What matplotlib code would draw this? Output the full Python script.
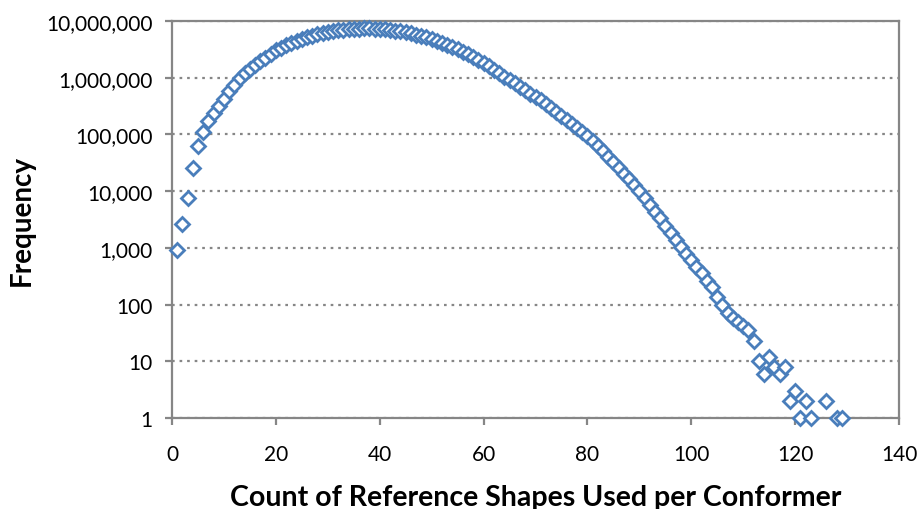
import matplotlib
matplotlib.use('Agg')
import matplotlib.pyplot as plt
from matplotlib.ticker import FuncFormatter, FixedLocator, NullLocator

# count of reference shapes (x) and frequency (y)
counts = list(range(1, 124)) + [126, 128, 129]
frequency = [
    930, 2600, 7600, 26000, 62000, 112000, 174000, 234000, 316000, 427000,
    575000, 759000, 977000, 1200000, 1430000, 1660000, 1950000, 2240000, 2630000, 3020000,
    3310000, 3720000, 4070000, 4470000, 4840000, 5190000, 5500000, 5820000, 6100000, 6310000,
    6610000, 6840000, 7000000, 7160000, 7240000, 7330000, 7380000, 7380000, 7330000, 7240000,
    7110000, 6970000, 6760000, 6530000, 6310000, 6030000, 5750000, 5430000, 5130000, 4790000,
    4470000, 4120000, 3800000, 3470000, 3160000, 2880000, 2600000, 2290000, 2040000, 1820000,
    1580000, 1380000, 1200000, 1050000, 912000, 794000, 692000, 603000, 525000, 457000,
    398000, 347000, 295000, 251000, 214000, 182000, 155000, 132000, 112000, 95500,
    77600, 63100, 51300, 40700, 32400, 25700, 20400, 16200, 12900, 10000,
    7590, 5750, 4370, 3310, 2450, 1820, 1380, 1050, 794, 603,
    457, 355, 263, 200, 138, 98, 71, 58, 49, 42,
    35, 23, 10, 6, 12, 8, 6, 8, 2, 3,
    1, 2, 1, 2, 1, 1,
]
x_ticks = [0, 20, 40, 60, 80, 100, 120, 140]
y_ticks = [1, 10, 100, 1000, 10000, 100000, 1000000, 10000000]

plt.rcParams['font.family'] = ['Lato', 'DejaVu Sans']
grey = '#868686'

fig = plt.figure(figsize=(9.19, 5.10), dpi=100)
ax = fig.add_axes([172 / 919, 1 - 419 / 510, (899 - 172) / 919, (419 - 22) / 510])

ax.plot(counts, frequency, linestyle='none', marker='D', markersize=7.5,
        markerfacecolor='white', markeredgecolor='#4A7EBB', markeredgewidth=2.0,
        clip_on=False, zorder=3)

ax.set_yscale('log')
ax.set_xlim(0, 140)
ax.set_ylim(1, 10000000)
ax.xaxis.set_major_locator(FixedLocator(x_ticks))
ax.yaxis.set_major_locator(FixedLocator(y_ticks))
ax.yaxis.set_minor_locator(NullLocator())
ax.yaxis.set_major_formatter(FuncFormatter(lambda v, p: '{:,.0f}'.format(v)))

ax.grid(axis='y', color=grey, linestyle=(0, (1.2, 2.2)), linewidth=1.6)
ax.set_axisbelow(True)
for s in ax.spines.values():
    s.set_color(grey)
    s.set_linewidth(1.6)

ax.tick_params(axis='both', colors=grey, labelcolor='black', labelsize=15,
               width=1.6, length=5, direction='out')
ax.tick_params(axis='x', pad=14)
ax.tick_params(axis='y', pad=9)

ax.set_xlabel('Count of Reference Shapes Used per Conformer', fontsize=20.5,
              fontweight='bold', labelpad=14)
ax.set_ylabel('Frequency', fontsize=20, fontweight='bold', labelpad=8)

fig.savefig('out.png', dpi=100)
